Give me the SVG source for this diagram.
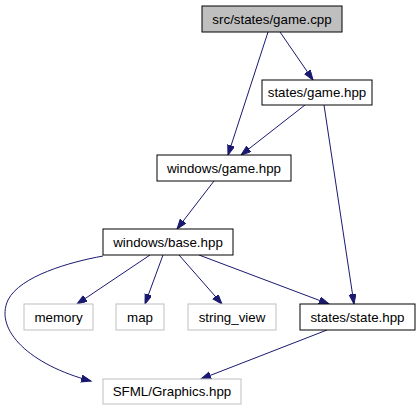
<svg xmlns="http://www.w3.org/2000/svg" width="420" height="411" viewBox="0 0 420 411">
<style>
text{font-family:"Liberation Sans",Arial,sans-serif;font-size:13.33px;text-anchor:middle;fill:#000}
.n rect{fill:#fff;stroke:#000;stroke-width:1}
.g rect{fill:#fff;stroke:#bfbfbf;stroke-width:1}
.root rect{fill:#bfbfbf;stroke:#000}
#edges path{fill:none;stroke:#191970;stroke-width:1;marker-end:url(#a)}
</style>
<defs>
<marker id="a" markerWidth="12" markerHeight="9" refX="10" refY="3.5" orient="auto" markerUnits="userSpaceOnUse"><path d="M0,0 L10,3.5 L0,7 z" fill="#191970" stroke="#191970" stroke-width="1"/></marker>
</defs>
<rect width="420" height="411" fill="#fff"/>
<g id="edges">
<path d="M268,32 L228,155"/>
<path d="M280,32 L313,80"/>
<path d="M305,105 L241,155"/>
<path d="M324,105 L354,304"/>
<path d="M214,181 L177,229"/>
<path d="M150,255 L77,304"/>
<path d="M163,255 L145,304"/>
<path d="M179,255 L222,304"/>
<path d="M199,255 L329,304"/>
<path d="M327,330 L201,379"/>
<path d="M103,256 C70,262 20,276 8,300 C-6,330 30,365 91,381"/>
</g>
<g id="n_game_cpp" class="n root"><rect x="202" y="6" width="140" height="26"/><text x="272" y="24">src/states/game.cpp</text></g>
<g id="n_states_game_hpp" class="n"><rect x="262" y="80" width="110" height="25"/><text x="317" y="97">states/game.hpp</text></g>
<g id="n_windows_game_hpp" class="n"><rect x="157" y="155" width="134" height="26"/><text x="224" y="173">windows/game.hpp</text></g>
<g id="n_windows_base_hpp" class="n"><rect x="103" y="229" width="130" height="26"/><text x="168" y="247">windows/base.hpp</text></g>
<g id="n_memory" class="g"><rect x="24" y="304" width="69" height="26"/><text x="58.5" y="322">memory</text></g>
<g id="n_map" class="g"><rect x="116" y="304" width="48" height="26"/><text x="140" y="322">map</text></g>
<g id="n_string_view" class="g"><rect x="188" y="304" width="88" height="26"/><text x="232" y="322">string_view</text></g>
<g id="n_state_hpp" class="n"><rect x="300" y="304" width="115" height="26"/><text x="357.5" y="322">states/state.hpp</text></g>
<g id="n_sfml" class="g"><rect x="103" y="379" width="138" height="25"/><text x="172" y="396">SFML/Graphics.hpp</text></g>
</svg>
